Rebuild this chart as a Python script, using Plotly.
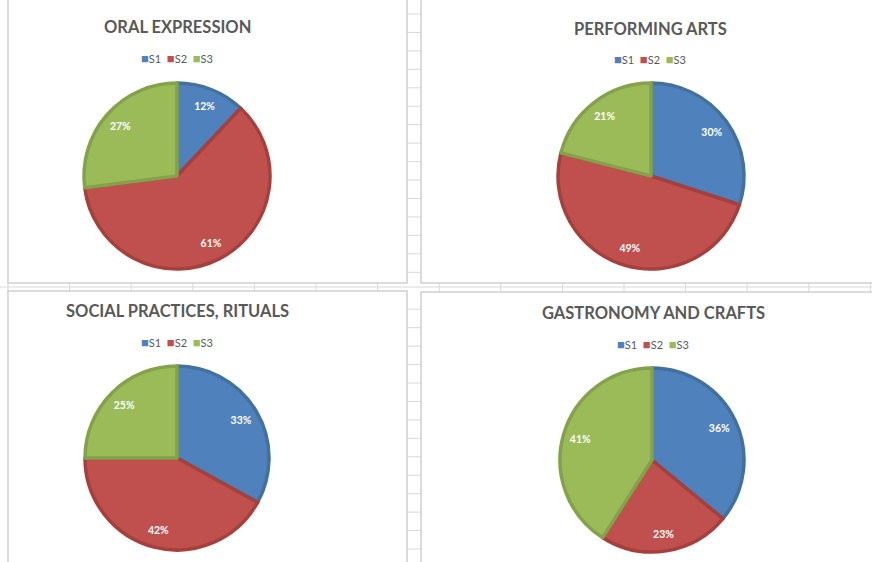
import plotly.graph_objects as go

# ---- data ----
titles = ["ORAL EXPRESSION", "PERFORMING ARTS", "SOCIAL PRACTICES, RITUALS", "GASTRONOMY AND CRAFTS"]
labels = ["S1", "S2", "S3"]
oral = [12, 61, 27]
performing = [30, 49, 21]
social = [33, 42, 25]
gastronomy = [36, 23, 41]
series = [oral, performing, social, gastronomy]

fill_colors = ["#4F81BD", "#C0504D", "#9BBB59"]
line_colors = ["#41719C", "#A5403D", "#84A24A"]

W, H = 872, 562
def px(x): return x / W
def py(y): return 1 - y / H

# panel geometry (pixels): pie center, radius, title pos, legend y
panels = [
    dict(cx=177, cy=176, r=93, tx=177, ty=27, ly=58),
    dict(cx=651, cy=176, r=93, tx=650, ty=29, ly=59),
    dict(cx=177, cy=458, r=92, tx=177, ty=311, ly=342),
    dict(cx=652, cy=460, r=92, tx=653, ty=313, ly=344),
]

FONT = "Lato, 'Open Sans', sans-serif"
fig = go.Figure()
annotations = []
shapes = []

for t, vals, p in zip(titles, series, panels):
    dom = dict(x=[px(p["cx"] - p["r"]), px(p["cx"] + p["r"])],
               y=[py(p["cy"] + p["r"]), py(p["cy"] - p["r"])])
    # filled pie
    fig.add_trace(go.Pie(
        labels=labels, values=vals, sort=False, direction="clockwise", rotation=0,
        domain=dom,
        marker=dict(colors=fill_colors, line=dict(color=line_colors, width=3.5)),
        textinfo="none", showlegend=False, hoverinfo="label+percent",
    ))
    # transparent ring carrying the percentage labels near the rim
    fig.add_trace(go.Pie(
        labels=labels, values=vals, sort=False, direction="clockwise", rotation=0,
        domain=dom, hole=0.62,
        marker=dict(colors=["rgba(0,0,0,0)"] * 3, line=dict(width=0)),
        textinfo="percent", textposition="inside", insidetextorientation="horizontal",
        textfont=dict(color="white", size=10.5, family=FONT, weight="bold"),
        showlegend=False, hoverinfo="skip",
    ))
    annotations.append(dict(
        x=px(p["tx"]), y=py(p["ty"]), xref="paper", yref="paper",
        text="<b>%s</b>" % t, showarrow=False, xanchor="center", yanchor="middle",
        font=dict(size=16.5, color="#595959", family=FONT),
    ))
    leg = "&nbsp;&nbsp;".join(
        "<span style='color:%s;font-size:13px'>■</span>%s" % (c, l)
        for c, l in zip(fill_colors, labels))
    annotations.append(dict(
        x=px(p["tx"]), y=py(p["ly"]), xref="paper", yref="paper",
        text=leg, showarrow=False, xanchor="center", yanchor="middle",
        font=dict(size=11, color="#595959", family=FONT),
    ))

GRID = "#D9D9D9"
def line(x0, y0, x1, y1, color=GRID, w=1):
    shapes.append(dict(type="line", xref="paper", yref="paper",
                       x0=px(x0), y0=py(y0), x1=px(x1), y1=py(y1),
                       line=dict(color=color, width=w), layer="below"))

# spreadsheet gridlines in the gaps between the chart panels
y = 14.0
while y < H:
    if not (283 <= y <= 292):
        line(407, y, 421, y)
    y += 18.45
x = 8.0
while x < W:
    line(x, 283, x, 292)
    x += 61.6
line(0, 287, W, 287)

# panel borders
for (x0, y0, x1, y1) in [(8, -2, 407, 283), (421, -2, W + 2, 283),
                         (8, 291, 407, H + 2), (421, 292, W + 2, H + 2)]:
    shapes.append(dict(type="rect", xref="paper", yref="paper",
                       x0=px(x0), y0=py(y1), x1=px(x1), y1=py(y0),
                       line=dict(color="#D0D0D0", width=1.5), fillcolor="white", layer="below"))

fig.update_layout(
    width=W, height=H, margin=dict(l=0, r=0, t=0, b=0),
    paper_bgcolor="white", plot_bgcolor="white",
    annotations=annotations, shapes=shapes, showlegend=False,
)
fig.write_html("out.html", post_script="document.body.style.margin='0';",
               config={"displayModeBar": False})
